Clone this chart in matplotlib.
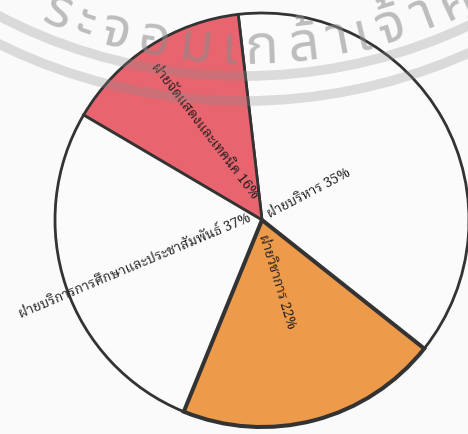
import numpy as np
import matplotlib
matplotlib.use("Agg")
import matplotlib.pyplot as plt
from matplotlib import font_manager
from matplotlib.ft2font import FT2Font
from matplotlib.font_manager import FontProperties
from matplotlib.patches import Arc

# chart data
departments = ["ฝ่ายบริหาร", "ฝ่ายจัดแสดงและเทคนิค",
               "ฝ่ายบริการการศึกษาและประชาสัมพันธ์", "ฝ่ายวิชาการ"]
percent_labels = [35, 16, 37, 22]
slice_sizes = [37.5, 14.7, 27.3, 20.5]   # share of the circle as drawn
slice_colors = ["#fbfbfb", "#e8656f", "#fbfbfb", "#ee9a4b"]

# label layout: text direction (deg) and anchor offset from the pie centre (px)
label_rot = [27.7, -52.5, 22.8, -73.0]
label_ha = ["left", "right", "right", "left"]
label_off = [(6, 6), (-7, 24), (-12, 3), (0, -14)]

# watermark (university seal, partly visible)
watermark_chars = ["ร", "ะ", "จ", "อ", "ม", "เ", "ก", "ล้", "า", "เ", "จ้", "า", "คุ"]


def thai_fonts():
    # installed fonts that have Thai glyphs
    found = []
    for f in font_manager.fontManager.ttflist:
        try:
            if 0x0E01 in FT2Font(f.fname).get_charmap():
                found.append(f.name)
        except Exception:
            pass
    return sorted(set(found))


found = thai_fonts()
serif_pick = [p for p in ["Norasi", "Noto Serif Thai", "Sarabun", "TH Sarabun New",
                          "Loma", "Garuda", "Noto Sans Thai Looped"] if p in found]
sans_pick = [p for p in ["Noto Sans Thai", "Noto Sans Thai UI", "Loma", "Garuda"] if p in found]
label_fam = (serif_pick[:1] or found[:1]) + ["DejaVu Sans"]
mark_fam = (sans_pick[:1] or found[:1]) + ["DejaVu Sans"]
plt.rcParams["font.family"] = label_fam

fig = plt.figure(figsize=(4.68, 4.35), dpi=100, facecolor="#fafafa")
ax = fig.add_axes([0, 0, 1, 1])
ax.set_facecolor("#fafafa")
ax.set_xlim(0, 468)
ax.set_ylim(0, 435)
ax.set_aspect("equal")
ax.axis("off")

cx, cy = 262, 214
wedges, _ = ax.pie(slice_sizes, colors=slice_colors,
                   startangle=-38.4, counterclock=True,
                   center=(cx, cy), radius=207, frame=True,
                   wedgeprops=dict(edgecolor="#333333", linewidth=2.0))
# the orange slice has heavier borders in the original
wedges[3].set_linewidth(2.9)
wedges[3].set_zorder(wedges[3].get_zorder() + 0.1)

for d, p, rot, ha, off in zip(departments, percent_labels, label_rot, label_ha, label_off):
    ax.text(cx + off[0], cy + off[1], f"{d} {p}%", fontsize=9.8, color="#1c1c1c",
            rotation=rot, rotation_mode="anchor", ha=ha, va="center", zorder=4)

# watermark arcs and text
wm_c = (243.5, 435 + 451)
for r in (528, 553):
    ax.add_patch(Arc(wm_c, 2 * r, 2 * r, theta1=225, theta2=315,
                     color="#8a8a8a", alpha=0.28, lw=7.0, zorder=5))

renderer = fig.canvas.get_renderer()
fp = FontProperties(family=mark_fam, size=40, weight="bold")
widths = [renderer.get_text_width_height_descent(ch, fp, ismath=False)[0]
          for ch in watermark_chars]
centres = np.cumsum(widths) - np.array(widths) / 2
# spread the letters between the first and last visible positions
a0, a1 = -18.4, 25.2
ang = a0 + (centres - centres[1]) / (centres[-1] - centres[1]) * (a1 - a0)
for ch, a in zip(watermark_chars, ang):
    th = np.deg2rad(a)
    x = wm_c[0] + 500 * np.sin(th)
    y = wm_c[1] - 500 * np.cos(th)
    ax.text(x, y, ch, fontproperties=fp, color="#8a8a8a", alpha=0.55,
            ha="center", va="center", rotation=a, rotation_mode="anchor",
            zorder=6)

fig.savefig("out.png", dpi=100, facecolor=fig.get_facecolor())
